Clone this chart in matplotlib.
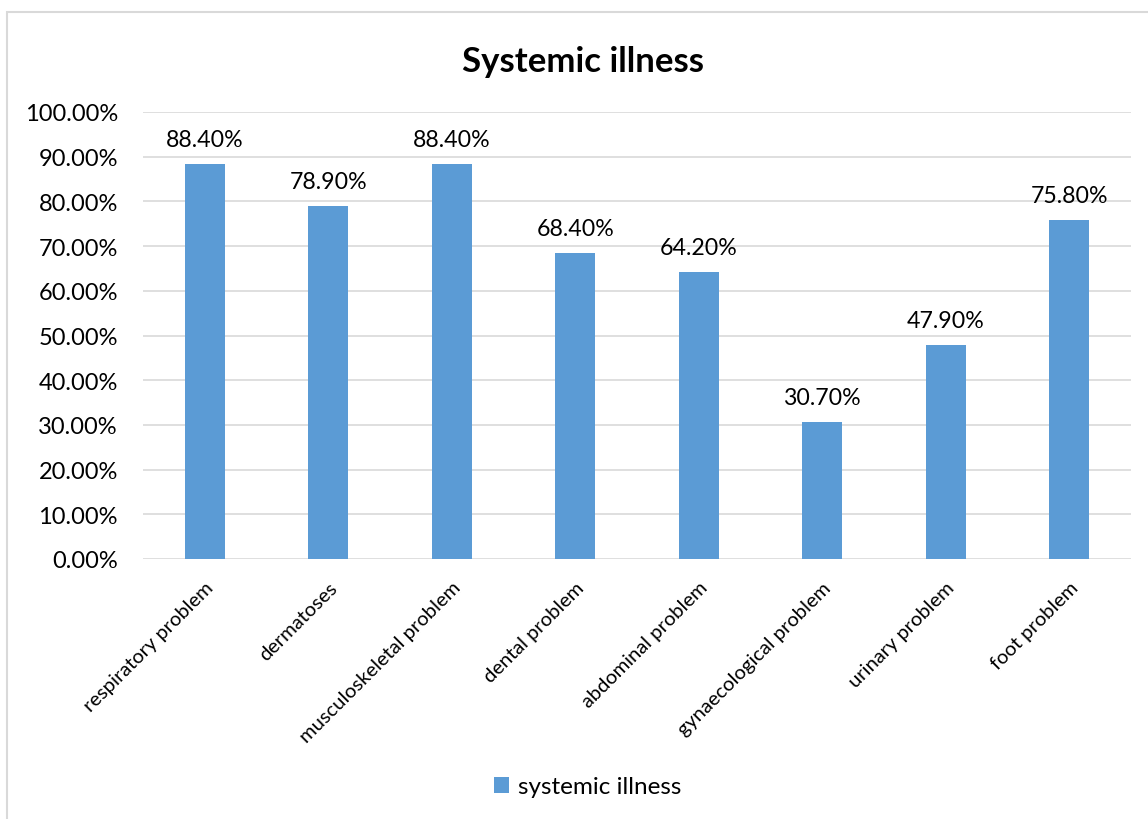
import matplotlib.pyplot as plt
from matplotlib.patches import Rectangle
from matplotlib.ticker import FuncFormatter

plt.rcParams['font.family'] = ['Lato', 'DejaVu Sans']

categories = ["respiratory problem", "dermatoses", "musculoskeletal problem",
              "dental problem", "abdominal problem", "gynaecological problem",
              "urinary problem", "foot problem"]
values = [88.4, 78.9, 88.4, 68.4, 64.2, 30.7, 47.9, 75.8]
series_name = "systemic illness"

bar_color = "#5B9BD5"
grid_color = "#D9D9D9"

fig = plt.figure(figsize=(11.48, 8.2), dpi=100)
# chart border (Excel style)
fig.patches.append(Rectangle((7 / 1148, -0.1), 1.2, 1 - 13 / 820 + 0.1,
                             transform=fig.transFigure, fill=False,
                             edgecolor=grid_color, linewidth=1.5))

ax = fig.add_axes([143 / 1148, 1 - 560 / 820, (1131 - 143) / 1148, (560 - 113) / 820])
x = range(len(categories))
bars = ax.bar(x, values, width=0.32, color=bar_color, label=series_name, zorder=3)

ax.set_xlim(-0.5, len(categories) - 0.5)
ax.set_ylim(0, 100)
ax.set_yticks(range(0, 101, 10))
ax.yaxis.set_major_formatter(FuncFormatter(lambda v, p: f"{v:.2f}%"))
ax.grid(axis='y', color=grid_color, linewidth=1.2, zorder=0)
for s in ax.spines.values():
    s.set_visible(False)
ax.tick_params(axis='both', length=0, labelsize=17, colors='black')
ax.tick_params(axis='y', pad=18)
ax.set_xticks(list(x))
ax.set_xticklabels(categories, rotation=45, ha='right', rotation_mode='anchor', fontsize=14.5)
ax.tick_params(axis='x', pad=14)

for b, v in zip(bars, values):
    ax.annotate(f"{v:.2f}%", (b.get_x() + b.get_width() / 2, v),
                xytext=(0, 10), textcoords='offset points',
                ha='center', va='bottom', fontsize=16.7)

fig.text(583 / 1148, 1 - 62 / 820, "Systemic illness", ha='center', va='center',
         fontsize=25, fontweight='bold')
fig.legend(loc='center', bbox_to_anchor=(588 / 1148, 1 - 788 / 820), frameon=False,
           fontsize=17.5, handlelength=0.6, handleheight=0.6, handletextpad=0.4)

fig.savefig("out.png", dpi=100)
